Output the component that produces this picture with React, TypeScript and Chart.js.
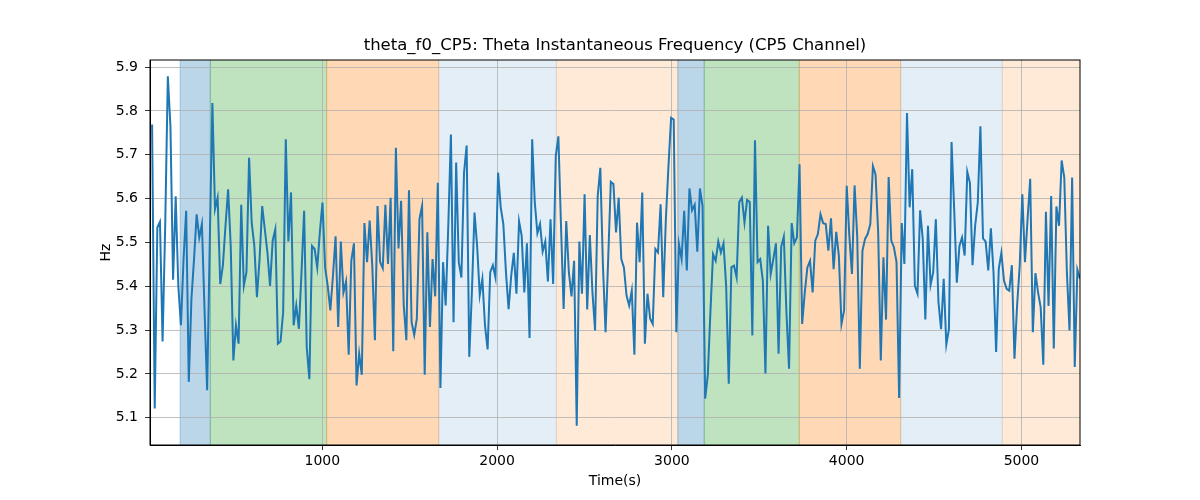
import { useEffect, useRef } from "react"
import { Chart, registerables } from "chart.js"

Chart.register(...registerables)

// sampling window of the trace (seconds axis)
const T_START = 26
const T_END = 5335

// theta instantaneous frequency, CP5 (Hz) left to right
const FREQ_HZ = [
  5.769, 5.121, 5.534, 5.547, 5.274, 5.538, 5.879, 5.765, 5.415, 5.605,
  5.401, 5.311, 5.462, 5.572, 5.182, 5.371, 5.462, 5.564, 5.511, 5.542,
  5.348, 5.163, 5.5, 5.818, 5.576, 5.602, 5.405, 5.447, 5.538, 5.621,
  5.492, 5.231, 5.311, 5.269, 5.586, 5.401, 5.432, 5.693, 5.545, 5.492,
  5.375, 5.462, 5.583, 5.53, 5.477,
  5.401, 5.504, 5.53, 5.269, 5.274, 5.341, 5.735, 5.502, 5.614, 5.311,
  5.356, 5.303, 5.432, 5.572, 5.261, 5.188, 5.492, 5.485, 5.443, 5.523,
  5.591, 5.443, 5.401, 5.345, 5.424, 5.514, 5.307, 5.502, 5.386, 5.411,
  5.244, 5.458, 5.498, 5.174, 5.246, 5.198, 5.544, 5.455, 5.55, 5.447,
  5.277, 5.583, 5.455, 5.441,
  5.586, 5.451, 5.602, 5.252, 5.716, 5.486, 5.595, 5.356, 5.277, 5.619,
  5.318, 5.289, 5.326, 5.553, 5.583, 5.198, 5.523, 5.307, 5.462, 5.377,
  5.636, 5.168, 5.455, 5.356, 5.538, 5.746, 5.318, 5.682, 5.455, 5.42,
  5.659, 5.721, 5.239, 5.386, 5.568, 5.492, 5.38, 5.417, 5.311, 5.256,
  5.432, 5.448, 5.42, 5.659,
  5.58, 5.542, 5.432, 5.348, 5.424, 5.476, 5.383, 5.548, 5.515, 5.386,
  5.498, 5.282, 5.735, 5.591, 5.521, 5.542, 5.479, 5.502, 5.411, 5.553,
  5.405, 5.697, 5.742, 5.538, 5.348, 5.549, 5.432, 5.377, 5.458, 5.082,
  5.502, 5.383, 5.61, 5.347, 5.517, 5.386, 5.299, 5.606, 5.67, 5.447,
  5.295, 5.462, 5.638, 5.633,
  5.523, 5.602, 5.462, 5.443, 5.379, 5.356, 5.39, 5.244, 5.545, 5.455,
  5.614, 5.269, 5.383, 5.326, 5.314, 5.485, 5.477, 5.587, 5.375, 5.553,
  5.674, 5.784, 5.78, 5.295, 5.496, 5.462, 5.572, 5.436, 5.623, 5.573,
  5.586, 5.479, 5.623, 5.583, 5.144, 5.197, 5.341, 5.473, 5.458, 5.502,
  5.477, 5.498, 5.401, 5.178,
  5.443, 5.447, 5.42, 5.592, 5.602, 5.545, 5.597, 5.592, 5.288, 5.733,
  5.455, 5.462, 5.413, 5.201, 5.538, 5.428, 5.462, 5.498, 5.246, 5.49,
  5.513, 5.341, 5.212, 5.544, 5.498, 5.511, 5.678, 5.314, 5.386, 5.443,
  5.458, 5.386, 5.504, 5.519, 5.564, 5.544, 5.542, 5.481, 5.555, 5.439,
  5.524, 5.47, 5.314, 5.345,
  5.629, 5.515, 5.428, 5.63, 5.515, 5.212, 5.481, 5.508, 5.519, 5.542,
  5.674, 5.655, 5.523, 5.231, 5.466, 5.324, 5.649, 5.504, 5.489, 5.455,
  5.145, 5.544, 5.451, 5.795, 5.58, 5.667, 5.401, 5.383, 5.573, 5.508,
  5.324, 5.538, 5.403, 5.432, 5.553, 5.364, 5.302, 5.417, 5.267, 5.302,
  5.729, 5.576, 5.408, 5.492,
  5.511, 5.47, 5.661, 5.636, 5.448, 5.538, 5.591, 5.765, 5.509, 5.502,
  5.436, 5.532, 5.432, 5.25, 5.439, 5.476, 5.413, 5.394, 5.39, 5.448,
  5.235, 5.356, 5.447, 5.61, 5.455, 5.553, 5.645, 5.295, 5.43, 5.386,
  5.352, 5.221, 5.57, 5.355, 5.606, 5.258, 5.582, 5.538, 5.687, 5.648,
  5.432, 5.299, 5.648, 5.216, 5.438, 5.417,
]

const X_TICKS = [1000, 2000, 3000, 4000, 5000]
const Y_TICKS = [5.1, 5.2, 5.3, 5.4, 5.5, 5.6, 5.7, 5.8, 5.9]

// shaded phases (seconds)
const SPAN_STARTS = [186, 359, 1025, 1666, 2339, 3034, 3185, 3729, 4309, 4890]
const SPAN_ENDS = [359, 1025, 1666, 2339, 3034, 3185, 3729, 4309, 4890, 5400]

const BLUE = "rgba(31, 119, 180, 0.3)"
const GREEN = "rgba(44, 160, 44, 0.3)"
const ORANGE = "rgba(255, 127, 14, 0.3)"
const PALE_BLUE = "rgba(31, 119, 180, 0.12)"
const PALE_ORANGE = "rgba(255, 127, 14, 0.16)"
const SPAN_COLORS = [BLUE, GREEN, ORANGE, PALE_BLUE, PALE_ORANGE, BLUE, GREEN, ORANGE, PALE_BLUE, PALE_ORANGE]

const FONT = "DejaVu Sans"

const spansPlugin = {
  id: "spans",
  beforeDraw(chart: any) {
    const { ctx, chartArea: a, scales } = chart
    const x = scales.x
    ctx.save()
    ctx.beginPath()
    ctx.rect(a.left, a.top, a.right - a.left, a.bottom - a.top)
    ctx.clip()
    SPAN_STARTS.forEach((s, i) => {
      const x0 = x.getPixelForValue(s)
      const x1 = x.getPixelForValue(SPAN_ENDS[i])
      ctx.fillStyle = SPAN_COLORS[i]
      ctx.fillRect(x0, a.top, x1 - x0, a.bottom - a.top)
      ctx.strokeStyle = SPAN_COLORS[i]
      ctx.lineWidth = 1
      ctx.beginPath()
      ctx.moveTo(x0, a.top)
      ctx.lineTo(x0, a.bottom)
      ctx.moveTo(x1, a.top)
      ctx.lineTo(x1, a.bottom)
      ctx.stroke()
    })
    ctx.restore()
  },
}

const labelsPlugin = {
  id: "labels",
  afterDraw(chart: any) {
    const { ctx, chartArea: a } = chart
    ctx.save()
    ctx.strokeStyle = "#000"
    ctx.lineWidth = 1
    ctx.strokeRect(a.left, a.top, a.right - a.left, a.bottom - a.top)
    ctx.fillStyle = "#000"
    ctx.textAlign = "center"
    ctx.textBaseline = "middle"
    ctx.font = `16.5px "${FONT}"`
    ctx.fillText("theta_f0_CP5: Theta Instantaneous Frequency (CP5 Channel)", (a.left + a.right) / 2, 46)
    ctx.font = `14px "${FONT}"`
    ctx.fillText("Time(s)", (a.left + a.right) / 2, 481)
    ctx.translate(106, (a.top + a.bottom) / 2)
    ctx.rotate(-Math.PI / 2)
    ctx.fillText("Hz", 0, 0)
    ctx.restore()
  },
}

export default function App() {
  const chartRef = useRef<HTMLCanvasElement>(null)
  const chartInstance = useRef<Chart | null>(null)

  useEffect(() => {
    const canvas = chartRef.current
    if (!canvas) return
    const ctx = canvas.getContext("2d")
    if (!ctx) return

    if (chartInstance.current) {
      chartInstance.current.destroy()
    }

    const step = (T_END - T_START) / (FREQ_HZ.length - 1)
    const points = FREQ_HZ.map((v, i) => ({ x: T_START + i * step, y: v }))

    chartInstance.current = new Chart(ctx, {
      type: "line",
      data: {
        datasets: [
          {
            data: points,
            borderColor: "#1f77b4",
            borderWidth: 2,
            pointRadius: 0,
            tension: 0,
            fill: false,
          },
        ],
      },
      options: {
        responsive: false,
        animation: false,
        devicePixelRatio: 1,
        layout: { padding: { left: 0, right: 120, top: 60, bottom: 0 } },
        plugins: {
          legend: { display: false },
          title: { display: false },
          tooltip: { enabled: false },
        },
        scales: {
          x: {
            type: "linear",
            min: 14,
            max: 5335,
            afterFit: (scale: any) => {
              scale.height = 55
            },
            afterBuildTicks: (scale: any) => {
              scale.ticks = X_TICKS.map((v) => ({ value: v }))
            },
            ticks: {
              color: "#000",
              font: { family: FONT, size: 14 },
              padding: 3,
              maxRotation: 0,
              autoSkip: false,
              callback: (v: any) => String(v),
            },
            grid: {
              color: "#b0b0b0",
              lineWidth: 0.8,
              tickColor: "#000",
              tickLength: 5,
            },
            border: { display: true, color: "#000", width: 1 },
          },
          y: {
            type: "linear",
            min: 5.038,
            max: 5.916,
            afterFit: (scale: any) => {
              scale.width = 150
            },
            afterBuildTicks: (scale: any) => {
              scale.ticks = Y_TICKS.map((v) => ({ value: v }))
            },
            ticks: {
              color: "#000",
              font: { family: FONT, size: 14 },
              padding: 7,
              autoSkip: false,
              callback: (v: any) => Number(v).toFixed(1),
            },
            grid: {
              color: "#b0b0b0",
              lineWidth: 0.8,
              tickColor: "#000",
              tickLength: 5,
            },
            border: { display: true, color: "#000", width: 1 },
          },
        },
      },
      plugins: [spansPlugin, labelsPlugin],
    })

    return () => {
      if (chartInstance.current) {
        chartInstance.current.destroy()
        chartInstance.current = null
      }
    }
  }, [])

  return (
    <div style={{ position: "fixed", left: 0, top: 0, width: 1200, height: 500, background: "#fff" }}>
      <canvas ref={chartRef} width={1200} height={500}></canvas>
    </div>
  )
}
